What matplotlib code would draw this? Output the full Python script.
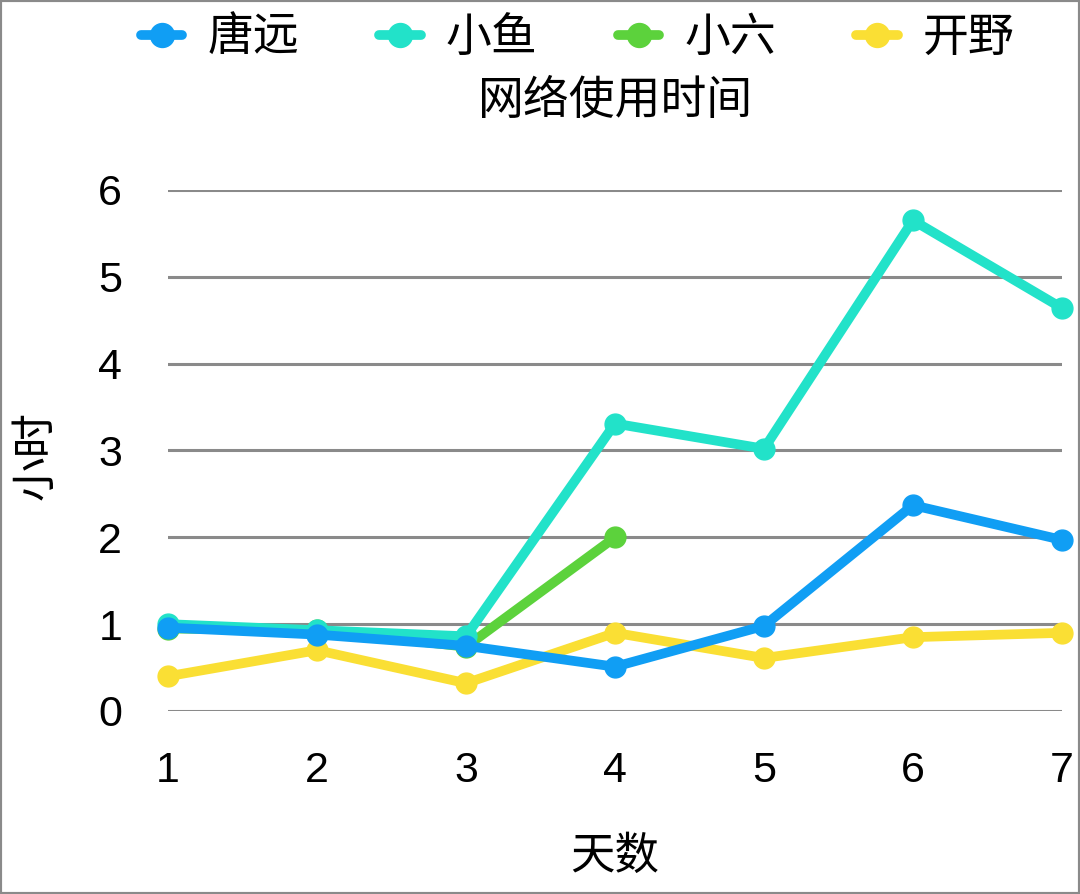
import numpy as np
import matplotlib.pyplot as plt
from matplotlib.patches import Rectangle

plt.rcParams['font.family'] = ['Liberation Sans', 'Noto Sans CJK SC', 'DejaVu Sans']

days = [1, 2, 3, 4, 5, 6, 7]
names = ['唐远', '小鱼', '小六', '开野']
tangyuan = [0.96, 0.88, 0.75, 0.51, 0.98, 2.37, 1.97]
xiaoyu = [1.0, 0.93, 0.86, 3.31, 3.02, 5.65, 4.64]
xiaoliu = [0.95, 0.93, 0.74, 2.0, np.nan, np.nan, np.nan]
kaiye = [0.40, 0.70, 0.32, 0.90, 0.61, 0.85, 0.90]
colors = ['#109ef4', '#22e2c9', '#5cd23c', '#fadf34']
yticks = [0, 1, 2, 3, 4, 5, 6]

fig = plt.figure(figsize=(10.8, 8.94), dpi=100)
ax = fig.add_axes([0.1556, 0.2047, 0.8277, 0.5828])

series = [tangyuan, xiaoyu, xiaoliu, kaiye]
zorders = [6, 5, 4, 3]
for vals, name, c, z in zip(series, names, colors, zorders):
    ax.plot(days, vals, color=c, lw=7, marker='o', ms=15, label=name,
            zorder=z, clip_on=False, solid_capstyle='round')

ax.set_xlim(1, 7)
ax.set_ylim(0, 6)
ax.set_xticks(days)
ax.set_yticks(yticks)
ax.grid(axis='y', color='#8a8a8a', lw=2.2, zorder=1)
ax.set_axisbelow(True)
for s in ax.spines.values():
    s.set_visible(False)
ax.tick_params(length=0, labelsize=31, pad=29)
ax.tick_params(axis='y', pad=33)

fig.text(0.569, 0.043, '天数', fontsize=32, ha='center', va='center',
         family=['Noto Sans CJK SC'])
fig.text(0.033, 0.491, '小时', fontsize=32, ha='center', va='center',
         rotation=90, family=['Noto Sans CJK SC'])
fig.text(0.570, 0.887, '网络使用时间', fontsize=33, ha='center', va='center',
         family=['Noto Sans CJK SC'])

leg = fig.legend(loc='center', bbox_to_anchor=(0.535, 0.958), ncol=4,
                 frameon=False, handlelength=0.9, columnspacing=1.75,
                 handletextpad=0.55, markerscale=1.15,
                 prop={'family': 'Noto Sans CJK SC', 'size': 33})

fig.patches.append(Rectangle((0, 0), 1, 1, transform=fig.transFigure,
                             fill=False, edgecolor='#8a8a8a', lw=3))

fig.savefig('out.png', dpi=100)
